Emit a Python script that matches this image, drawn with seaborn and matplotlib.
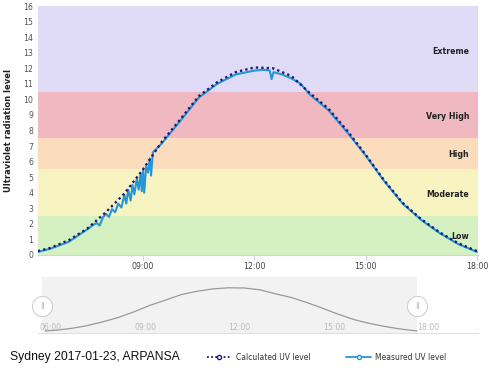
import pandas as pd
import seaborn as sns
import matplotlib.pyplot as plt
from matplotlib.lines import Line2D
from matplotlib.ticker import FuncFormatter, MultipleLocator

# datos (UV Sydney 2017-01-23)
calc_times = ["06:10", "06:30", "07:00", "07:30", "08:00", "08:30", "09:00", "09:30",
              "10:00", "10:30", "11:00", "11:30", "12:00", "12:30", "13:00", "13:30",
              "14:00", "14:30", "15:00", "15:30", "16:00", "16:30", "17:00", "17:30", "18:00"]
calc_uv = [0.25, 0.45, 0.95, 1.7, 2.75, 3.95, 5.5, 7.25,
           8.7, 10.2, 11.1, 11.75, 12.05, 12.0, 11.5, 10.4,
           9.4, 8.0, 6.45, 4.8, 3.35, 2.3, 1.45, 0.75, 0.25]

meas_times = ["06:10", "06:30", "07:00", "07:30", "07:40", "07:45", "07:50", "07:55",
              "08:00", "08:05", "08:10", "08:15", "08:20", "08:25", "08:30", "08:33",
              "08:36", "08:40", "08:43", "08:46", "08:50", "08:53", "08:56", "08:58",
              "09:00", "09:02", "09:05", "09:08", "09:11", "09:13", "09:16", "09:20",
              "09:30", "10:00", "10:30", "11:00", "11:30", "12:00", "12:15", "12:25",
              "12:28", "12:31", "12:45", "13:00", "13:15", "13:30", "14:00", "14:30",
              "15:00", "15:30", "16:00", "16:30", "17:00", "17:30", "18:00"]
meas_uv = [0.2, 0.4, 0.85, 1.65, 1.95, 2.05, 1.9, 2.4,
           2.65, 2.45, 2.95, 2.75, 3.3, 3.05, 3.85, 3.3,
           4.2, 3.5, 4.5, 3.9, 4.9, 4.2, 5.2, 4.1,
           5.45, 4.0, 5.7, 5.3, 6.2, 5.1, 6.6, 6.75,
           7.15, 8.6, 10.1, 11.0, 11.6, 11.85, 11.9, 11.85,
           11.3, 11.75, 11.6, 11.35, 11.0, 10.3, 9.3, 7.9,
           6.4, 4.75, 3.3, 2.25, 1.4, 0.7, 0.2]

band_names = ["Low", "Moderate", "High", "Very High", "Extreme"]
band_lims = [0, 2.5, 5.5, 7.5, 10.5, 16]
band_colors = ["#d5f0c1", "#f8f4c2", "#fbdcbd", "#f0b8c0", "#e0dcf8"]
band_label_y = [1.16, 3.9, 6.43, 8.87, 13.1]


def a_horas(lista):
    return pd.to_timedelta([t + ":00" for t in lista]).total_seconds() / 3600


calc = pd.DataFrame({"hora": a_horas(calc_times), "uv": calc_uv})
meas = pd.DataFrame({"hora": a_horas(meas_times), "uv": meas_uv})

sns.set_theme(style="white")
plt.rcParams["font.family"] = ["DejaVu Sans"]

fig = plt.figure(figsize=(5, 3.71), dpi=100)
ax = fig.add_axes([38 / 500, 1 - 255 / 371, 440 / 500, 249 / 371])

# bandas de riesgo
for i in range(len(band_names)):
    ax.axhspan(band_lims[i], band_lims[i + 1], color=band_colors[i], lw=0, zorder=0)
    ax.text(0.98, band_label_y[i], band_names[i], transform=ax.get_yaxis_transform(),
            ha="right", va="center", fontsize=5.7, fontweight="bold", color="#222222")

sns.lineplot(data=meas, x="hora", y="uv", ax=ax, color="#2596d6", lw=1.5, zorder=3)
sns.lineplot(data=calc, x="hora", y="uv", ax=ax, color="#1c1c78", lw=1.7,
             linestyle=(0, (1, 1.3)), zorder=4)

ax.set_xlim(6.17, 18.03)
ax.set_ylim(0, 16)
ax.yaxis.set_major_locator(MultipleLocator(1))
ax.set_xticks([9, 12, 15, 18])
ax.xaxis.set_major_formatter(FuncFormatter(lambda v, p: "%02d:00" % round(v)))
ax.tick_params(axis="y", length=0, pad=3.5, labelsize=5.6, labelcolor="#555555")
ax.tick_params(axis="x", length=3.6, width=0.8, color="#ccd6eb", pad=1.5,
               labelsize=5.7, labelcolor="#444444", bottom=True)
for s in ["top", "right", "left"]:
    ax.spines[s].set_visible(False)
ax.spines["bottom"].set_color("#ccd6eb")
ax.spines["bottom"].set_linewidth(0.8)

ax.set_ylabel("Ultraviolet radiation level", fontsize=6, fontweight="bold", color="#222222")
ax.yaxis.set_label_coords(-0.057, 0.5)
ax.set_xlabel("Time of day", fontsize=6, fontweight="bold", color="#222222")
ax.xaxis.set_label_coords(0.5, -0.095)

# navegador de abajo
nav = fig.add_axes([38 / 500, 1 - 333 / 371, 440 / 500, 56 / 371])
nav.set_xlim(5.94, 19.94)
nav.set_ylim(-0.3, 15)
nav.axvspan(6.08, 18.0, color="#f2f2f2", lw=0, zorder=0)
sns.lineplot(data=calc, x="hora", y="uv", ax=nav, color="#999999", lw=0.9, zorder=2)
nav.set_xticks([])
nav.set_yticks([])
nav.set_xlabel("")
nav.set_ylabel("")
for s in ["top", "right", "left"]:
    nav.spines[s].set_visible(False)
nav.spines["bottom"].set_color("#e0e0e0")
nav.spines["bottom"].set_linewidth(0.8)
for h in [6, 9, 12, 15, 18]:
    nav.text(h, 1.3, "%02d:00" % h, fontsize=5.6, color="#bbbbbb", ha="left", va="center")
nav.scatter([6.08, 18.0], [7.1, 7.1], s=210, facecolor="white", edgecolor="#d0d0d0",
            linewidth=0.8, zorder=5, clip_on=False)
for h in [6.08, 18.0]:
    nav.text(h, 7.1, "||", fontsize=5, color="#aaaaaa", ha="center", va="center", zorder=6)

fig.text(10 / 500, 1 - 357 / 371, "Sydney 2017-01-23, ARPANSA", fontsize=8.7,
         family="Liberation Sans", color="#111111", va="center", ha="left")

handles = [Line2D([], [], color="#1c1c78", lw=1.3, linestyle=(0, (1, 1.3)), marker="o",
                  markersize=3, markerfacecolor="white", markeredgecolor="#1c1c78"),
           Line2D([], [], color="#2596d6", lw=1.3, marker="o", markersize=3,
                  markerfacecolor="white", markeredgecolor="#2596d6")]
fig.legend(handles, ["Calculated UV level", "Measured UV level"], ncol=2, loc="center",
           bbox_to_anchor=(0.653, 1 - 357 / 371), frameon=False, fontsize=5.5,
           handlelength=3.3, handletextpad=0.5, columnspacing=4.7, labelcolor="#333333")

fig.savefig("out.png", dpi=100)
